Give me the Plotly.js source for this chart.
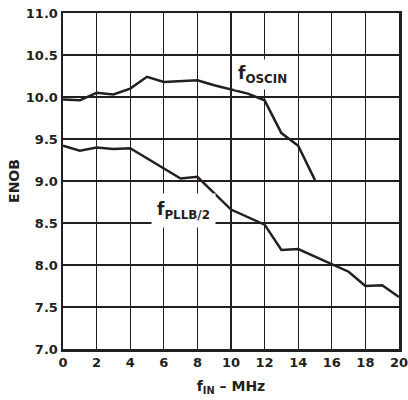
<!DOCTYPE html>
<html>
<head>
<meta charset="utf-8">
<script src="https://cdn.plot.ly/plotly-3.0.1.min.js"></script>
<style>html,body{margin:0;padding:0;background:#fff;}#chart{width:408px;height:400px;}</style>
</head>
<body>
<div id="chart"></div>
<script>
const oscinX = [0, 1, 2, 3, 4, 5, 6, 8, 9, 10, 11, 12, 13, 14, 15];
const oscinY = [9.97, 9.96, 10.05, 10.03, 10.10, 10.24, 10.18, 10.20, 10.14, 10.09, 10.04, 9.96, 9.57, 9.42, 9.01];
const pllbX = [0, 1, 2, 3, 4, 7, 8, 10, 12, 13, 14, 16, 17, 18, 19, 20];
const pllbY = [9.42, 9.36, 9.40, 9.38, 9.39, 9.03, 9.05, 8.66, 8.48, 8.18, 8.19, 8.01, 7.92, 7.75, 7.76, 7.62];
const xTicks = [0, 2, 4, 6, 8, 10, 12, 14, 16, 18, 20];
const yTicks = [7.0, 7.5, 8.0, 8.5, 9.0, 9.5, 10.0, 10.5, 11.0];
const labels = ["f<sub>OSCIN</sub>", "f<sub>PLLB/2</sub>"];

const ink = '#231f20';
const fam = 'DejaVu Sans, sans-serif';
const traces = [
  {x: oscinX, y: oscinY, mode: 'lines', line: {color: ink, width: 2.5}, hoverinfo: 'skip'},
  {x: pllbX, y: pllbY, mode: 'lines', line: {color: ink, width: 2.5}, hoverinfo: 'skip'}
];
const layout = {
  width: 408, height: 400,
  margin: {l: 63, r: 9, t: 13, b: 51},
  paper_bgcolor: '#fff', plot_bgcolor: '#fff',
  showlegend: false,
  font: {family: fam, color: ink, size: 13, weight: 'bold'},
  xaxis: {
    range: [0, 20], tickvals: xTicks, ticktext: xTicks.map(String),
    showgrid: true, gridcolor: ink, gridwidth: 1.3, zeroline: false,
    showline: true, linecolor: ink, linewidth: 2.5, mirror: true,
    ticks: '', ticklen: 0, ticklabeloverflow: 'allow',
    tickfont: {family: fam, size: 13, color: ink, weight: 'bold'},
    title: {text: 'f<sub>IN</sub> – MHz', font: {family: fam, size: 14, color: ink, weight: 'bold'}, standoff: 12}
  },
  yaxis: {
    range: [7, 11], tickvals: yTicks, ticktext: yTicks.map(v => v.toFixed(1)),
    showgrid: true, gridcolor: ink, gridwidth: 1.3, zeroline: false,
    showline: true, linecolor: ink, linewidth: 2.5, mirror: true,
    ticks: '', ticklen: 0,
    tickfont: {family: fam, size: 13, color: ink, weight: 'bold'},
    title: {text: 'ENOB', font: {family: fam, size: 14, color: ink, weight: 'bold'}, standoff: 3}
  },
  annotations: [
    {x: 11.85, y: 10.27, xref: 'x', yref: 'y', text: labels[0], showarrow: false,
     bgcolor: '#fff', borderpad: 3, font: {family: fam, size: 17, color: ink, weight: 'bold'}},
    {x: 7.2, y: 8.65, xref: 'x', yref: 'y', text: labels[1], showarrow: false,
     bgcolor: '#fff', borderpad: 5, font: {family: fam, size: 17, color: ink, weight: 'bold'}}
  ]
};
Plotly.newPlot('chart', traces, layout, {displayModeBar: false, staticPlot: true});
</script>
</body>
</html>
